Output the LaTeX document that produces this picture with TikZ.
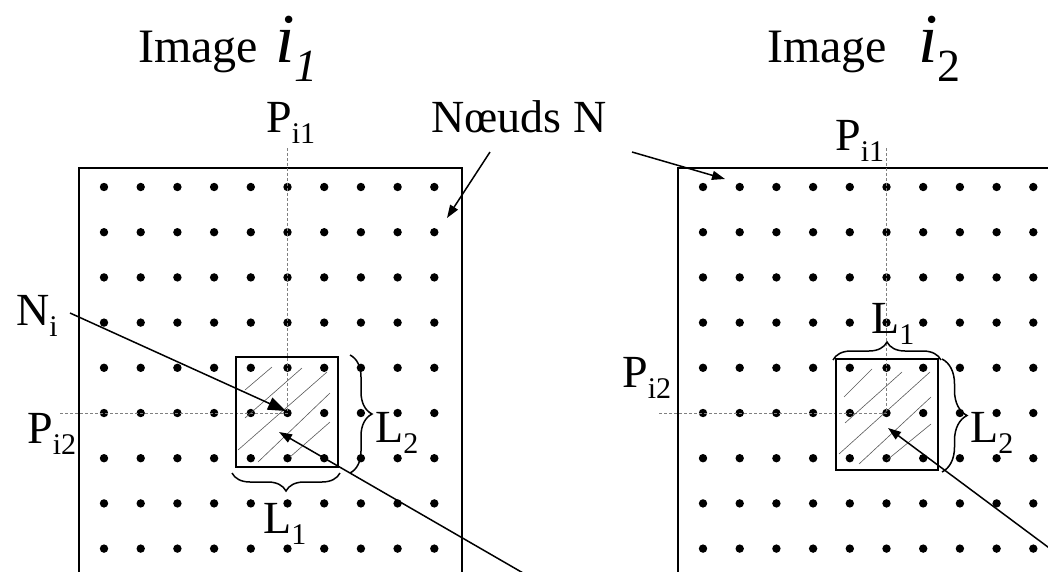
\documentclass[tikz,border=0pt]{standalone}
\usepackage{fontspec}
\setmainfont{Liberation Serif}
\usetikzlibrary{arrows.meta,decorations.pathreplacing}
\newcommand{\lbl}[2]{#1\raisebox{-11pt}{\fontsize{30}{30}\selectfont #2}}

\begin{document}
\begin{tikzpicture}[x=1pt, y=-1pt, font=\fontsize{46}{50}\selectfont,
  lab/.style={anchor=base west, inner sep=0pt},
  guide/.style={gray, dash pattern=on 3pt off 2pt, line width=0.8pt},
  hatch/.style={black!65, line width=0.6pt},
  frame/.style={line width=2pt},
  brc/.style={decorate, decoration={brace, amplitude=#1}, line width=1.5pt},
  pointer/.style={line width=1.5pt, -{Triangle[length=13pt,width=9pt]}}]
\path[use as bounding box] (0,0) rectangle (1048,571);
\clip (0,0) rectangle (1048,571);
% titles
\node[lab, font=\fontsize{48}{50}\selectfont] (tit1) at (138,62) {Image};
\node[lab, font=\fontsize{70}{70}\selectfont\itshape] (img1) at (275,62) {i\raisebox{-19pt}{\fontsize{46}{46}\selectfont 1}};
\node[lab, font=\fontsize{48}{50}\selectfont] (tit2) at (767,62) {Image};
\node[lab, font=\fontsize{70}{70}\selectfont] (img2) at (918,62) {\textit{i}\raisebox{-19pt}{\fontsize{46}{46}\selectfont 2}};
% left image i1
\draw[frame] (79,600) -- (79,168) -- (462,168) -- (462,600);
\foreach \c in {0,...,9} \foreach \r in {0,...,8} {\fill ({104+36.7*\c},{187+45.2*\r}) circle (4.2pt);}
\draw[guide] (287.5,148) -- (287.5,413);
\draw[guide] (60,413) -- (287.5,413);
\begin{scope}[shift={(236,357)}]
\foreach \a/\b/\c/\d in {9/33/36/10, 9/61/66/11, 2/93/91/15, 22/105/94/36, 54/100/94/65}
  \draw[hatch] (\a,\b) -- (\c,\d);
\draw[frame] (0,0) rectangle (102,110);
\end{scope}
\draw[brc=22pt] (350,355) -- (350,473);
\draw[brc=18pt] (340,473) -- (232,473);
\node[lab] (pa1) at (266,132) {\lbl{P}{i1}};
\node[lab] (pa2) at (27,443) {\lbl{P}{i2}};
\node[lab] (la1) at (263,533) {\lbl{L}{1}};
\node[lab] (la2) at (375,442) {\lbl{L}{2}};
\node[lab] (ni) at (16,325) {\lbl{N}{i}};
% right image i2
\draw[frame] (678,600) -- (678,168) -- (1100,168);
\foreach \c in {0,...,9} \foreach \r in {0,...,8} {\fill ({703+36.7*\c},{187+45.2*\r}) circle (4.2pt);}
\draw[guide] (886.5,148) -- (886.5,413);
\draw[guide] (659,413) -- (886.5,413);
\begin{scope}[shift={(836,359)}]
\foreach \a/\b/\c/\d in {8/38/36/10, 9/64/66/13, 3/95/94/13, 23/105/95/38, 51/101/95/65}
  \draw[hatch] (\a,\b) -- (\c,\d);
\draw[frame] (0,0) rectangle (102,111);
\end{scope}
\draw[brc=18pt] (833,360) -- (941,360);
\draw[brc=25pt] (942,359) -- (942,472);
\node[lab] (pb1) at (835,150) {\lbl{P}{i1}};
\node[lab] (pb2) at (622,387) {\lbl{P}{i2}};
\node[lab] (lb1) at (871,333) {\lbl{L}{1}};
\node[lab] (lb2) at (970,442) {\lbl{L}{2}};
% pointers
\node[lab] (noeuds) at (431,132) {Nœuds N};
\coordinate (nd1) at (490,152);
\coordinate (nd2) at (632,152);
\coordinate (dotA) at (447,218);
\coordinate (dotB) at (725,179);
\draw[pointer] (nd1) -- (dotA);
\draw[pointer] (nd2) -- (dotB);
\coordinate (niend) at (70,313);
\coordinate (ctrA) at (286,411);
\draw[line width=1.5pt, -{Triangle[length=18pt,width=13pt]}] (niend) -- (ctrA);
\coordinate (outA) at (530,577);
\coordinate (inA) at (279,432);
\draw[pointer] (outA) -- (inA);
\coordinate (outB) at (1060,556);
\coordinate (inB) at (888,428);
\draw[pointer] (outB) -- (inB);
\end{tikzpicture}
\end{document}
